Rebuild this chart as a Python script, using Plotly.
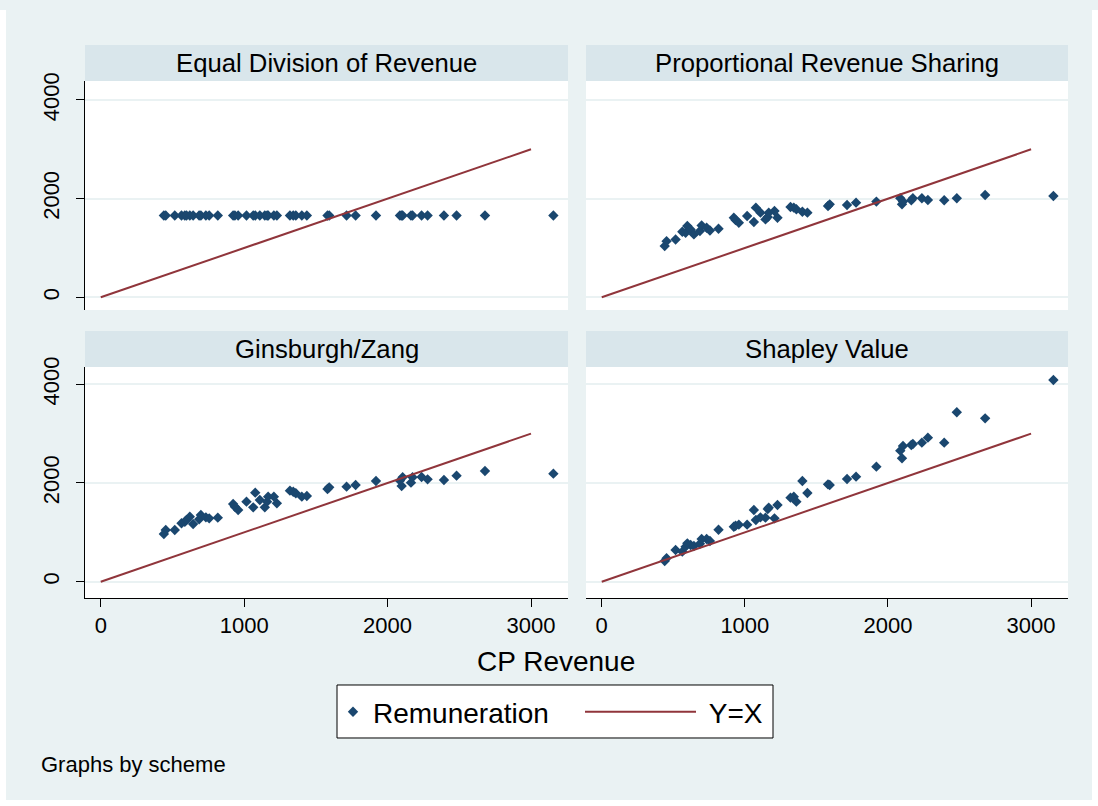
import plotly.graph_objects as go

# ---------------- data ----------------
panel_titles = ["Equal Division of Revenue", "Proportional Revenue Sharing",
                "Ginsburgh/Zang", "Shapley Value"]

cp_revenue = [440, 453, 516, 563, 586, 598, 621, 644, 686, 698,
              733, 756, 816, 923, 935, 958, 1016, 1063, 1077, 1109,
              1144, 1160, 1167, 1207, 1228, 1319, 1342, 1360, 1402, 1437,
              1581, 1593, 1714, 1777, 1919, 2086, 2098, 2105, 2163, 2174,
              2237, 2279, 2393, 2481, 2679, 3156]

equal_division = [1660, 1660, 1660, 1660, 1660, 1660, 1660, 1660, 1660, 1660,
                  1660, 1660, 1660, 1660, 1660, 1660, 1660, 1660, 1660, 1660,
                  1660, 1660, 1660, 1660, 1660, 1660, 1660, 1660, 1660, 1660,
                  1660, 1660, 1660, 1660, 1660, 1660, 1660, 1660, 1660, 1660,
                  1660, 1660, 1660, 1660, 1660, 1660]

proportional = [1038, 1139, 1173, 1329, 1309, 1445, 1377, 1275, 1343, 1458,
                1411, 1356, 1390, 1614, 1567, 1512, 1648, 1526, 1818, 1716,
                1580, 1628, 1716, 1750, 1614, 1831, 1818, 1784, 1736, 1716,
                1851, 1885, 1872, 1919, 1940, 2007, 1885, 1940, 1967, 2007,
                2007, 1974, 1967, 2007, 2075, 2055]

ginsburgh_zang = [967, 1048, 1048, 1183, 1216, 1250, 1318, 1169, 1264, 1352,
                  1304, 1284, 1298, 1574, 1520, 1453, 1622, 1507, 1804, 1656,
                  1507, 1622, 1723, 1723, 1588, 1845, 1824, 1791, 1723, 1737,
                  1878, 1912, 1926, 1959, 2040, 2047, 1939, 2115, 2007, 2115,
                  2122, 2074, 2061, 2149, 2243, 2189]

shapley = [419, 474, 642, 609, 710, 777, 744, 723, 770, 865,
           865, 825, 1054, 1115, 1135, 1156, 1156, 1453, 1250, 1304,
           1298, 1473, 1500, 1284, 1554, 1703, 1723, 1622, 2040, 1797,
           1973, 1959, 2081, 2128, 2331, 2655, 2500, 2750, 2770, 2790,
           2817, 2919, 2817, 3432, 3310, 4087]

identity_x = [0, 3000]
identity_y = [0, 3000]

x_ticks = [0, 1000, 2000, 3000]
y_ticks = [0, 2000, 4000]

# ---------------- styling ----------------
W, H = 1098, 806
FONT = "Liberation Sans, Arial, sans-serif"
BG = "#EAF2F3"
STRIP = "#D9E6EB"
MARKER = "#1A476F"
LINE = "#90353B"

def fx(p):
    return p / W

def fy(p):
    # map a pixel row of the target picture to a paper fraction
    # (the photographed page shows the figure 10 px lower, slightly squeezed)
    y = (p - 10) / 0.9876
    return 1 - y / H

col_px = [(85, 568), (586, 1068)]
row_px = [(81, 310), (367, 598)]
strip_px = [(45, 81), (331, 367)]
y_ranges = [[-257, 4385], [-330, 4350]]

series = [equal_division, proportional, ginsburgh_zang, shapley]

fig = go.Figure()
layout_axes = {}
shapes = []
annotations = []

for i in range(4):
    r, c = divmod(i, 2)
    n = i + 1
    xa = "x" if n == 1 else f"x{n}"
    ya = "y" if n == 1 else f"y{n}"
    xkey = "xaxis" if n == 1 else f"xaxis{n}"
    ykey = "yaxis" if n == 1 else f"yaxis{n}"

    fig.add_trace(go.Scatter(
        x=cp_revenue, y=series[i], mode="markers", xaxis=xa, yaxis=ya,
        name="Remuneration", showlegend=(i == 0), legend="legend",
        marker=dict(symbol="diamond", size=8, color=MARKER,
                    line=dict(width=0))))
    fig.add_trace(go.Scatter(
        x=identity_x, y=identity_y, mode="lines", xaxis=xa, yaxis=ya,
        name="\u00a0Y=X", showlegend=(i == 0), legend="legend2",
        line=dict(color=LINE, width=2)))

    bottom = (r == 1)
    left = (c == 0)
    layout_axes[xkey] = dict(
        domain=[fx(col_px[c][0]), fx(col_px[c][1])], anchor=ya,
        range=[-110, 3258], showgrid=False, zeroline=False,
        showline=bottom, linecolor="#000000", linewidth=1,
        ticks="outside" if bottom else "", ticklen=8, tickwidth=1,
        tickcolor="#000000", tickvals=x_ticks, showticklabels=bottom,
        tickfont=dict(family=FONT, size=22, color="#000000"),
        ticklabelstandoff=0)
    layout_axes[ykey] = dict(
        domain=[fy(row_px[r][1]), fy(row_px[r][0])], anchor=xa,
        range=y_ranges[r], showgrid=True, gridcolor=BG, gridwidth=2,
        zeroline=False, showline=left, linecolor="#000000", linewidth=1,
        ticks="outside" if left else "", ticklen=8, tickwidth=1,
        tickcolor="#000000", tickvals=y_ticks, showticklabels=left,
        tickangle=-90, tickfont=dict(family=FONT, size=22, color="#000000"),
        ticklabelstandoff=8)

    # header strip
    shapes.append(dict(type="rect", xref="paper", yref="paper",
                       x0=fx(col_px[c][0]), x1=fx(col_px[c][1]),
                       y0=fy(strip_px[r][1]), y1=fy(strip_px[r][0]),
                       fillcolor=STRIP, line=dict(width=0), layer="below"))
    annotations.append(dict(
        text=panel_titles[i], xref="paper", yref="paper",
        x=fx((col_px[c][0] + col_px[c][1]) / 2),
        y=fy((strip_px[r][0] + strip_px[r][1]) / 2),
        xanchor="center", yanchor="middle", showarrow=False,
        font=dict(family=FONT, size=25.7, color="#000000")))

# legend box
shapes.append(dict(type="rect", xref="paper", yref="paper",
                   x0=fx(337), x1=fx(773), y0=fy(738), y1=fy(685),
                   fillcolor="#FFFFFF", line=dict(color="#000000", width=1),
                   layer="above"))

# white outer frame (left, right, bottom; the top already shows white)
for x0, x1, y0, y1 in [(0, fx(6), 0, 1), (fx(1092), 1, 0, 1), (0, 1, 0, fy(800))]:
    shapes.append(dict(type="rect", xref="paper", yref="paper",
                       x0=x0, x1=x1, y0=y0, y1=y1,
                       fillcolor="#FFFFFF", line=dict(width=0), layer="above"))

annotations.append(dict(text="CP Revenue", xref="paper", yref="paper",
                        x=fx(556), y=fy(662), xanchor="center", yanchor="middle",
                        showarrow=False, font=dict(family=FONT, size=28, color="#000000")))
annotations.append(dict(text="Graphs by scheme", xref="paper", yref="paper",
                        x=fx(39), y=fy(765), xanchor="left", yanchor="middle",
                        showarrow=False, font=dict(family=FONT, size=22, color="#000000")))

legend_common = dict(orientation="h", yanchor="middle", y=fy(712),
                     bgcolor="rgba(0,0,0,0)", borderwidth=0,
                     font=dict(family=FONT, size=28, color="#000000"))

fig.update_layout(
    width=W, height=H, margin=dict(l=0, r=0, t=0, b=0),
    paper_bgcolor=BG, plot_bgcolor="#FFFFFF",
    font=dict(family=FONT, color="#000000"),
    shapes=shapes, annotations=annotations,
    showlegend=True,
    legend=dict(x=fx(333), xanchor="left", itemwidth=30, **legend_common),
    legend2=dict(x=fx(580), xanchor="left", itemwidth=111, **legend_common),
    **layout_axes,
)

fig.write_html("out.html", include_plotlyjs=True,
               config={"displayModeBar": False},
               post_script="document.body.style.margin='0';")
